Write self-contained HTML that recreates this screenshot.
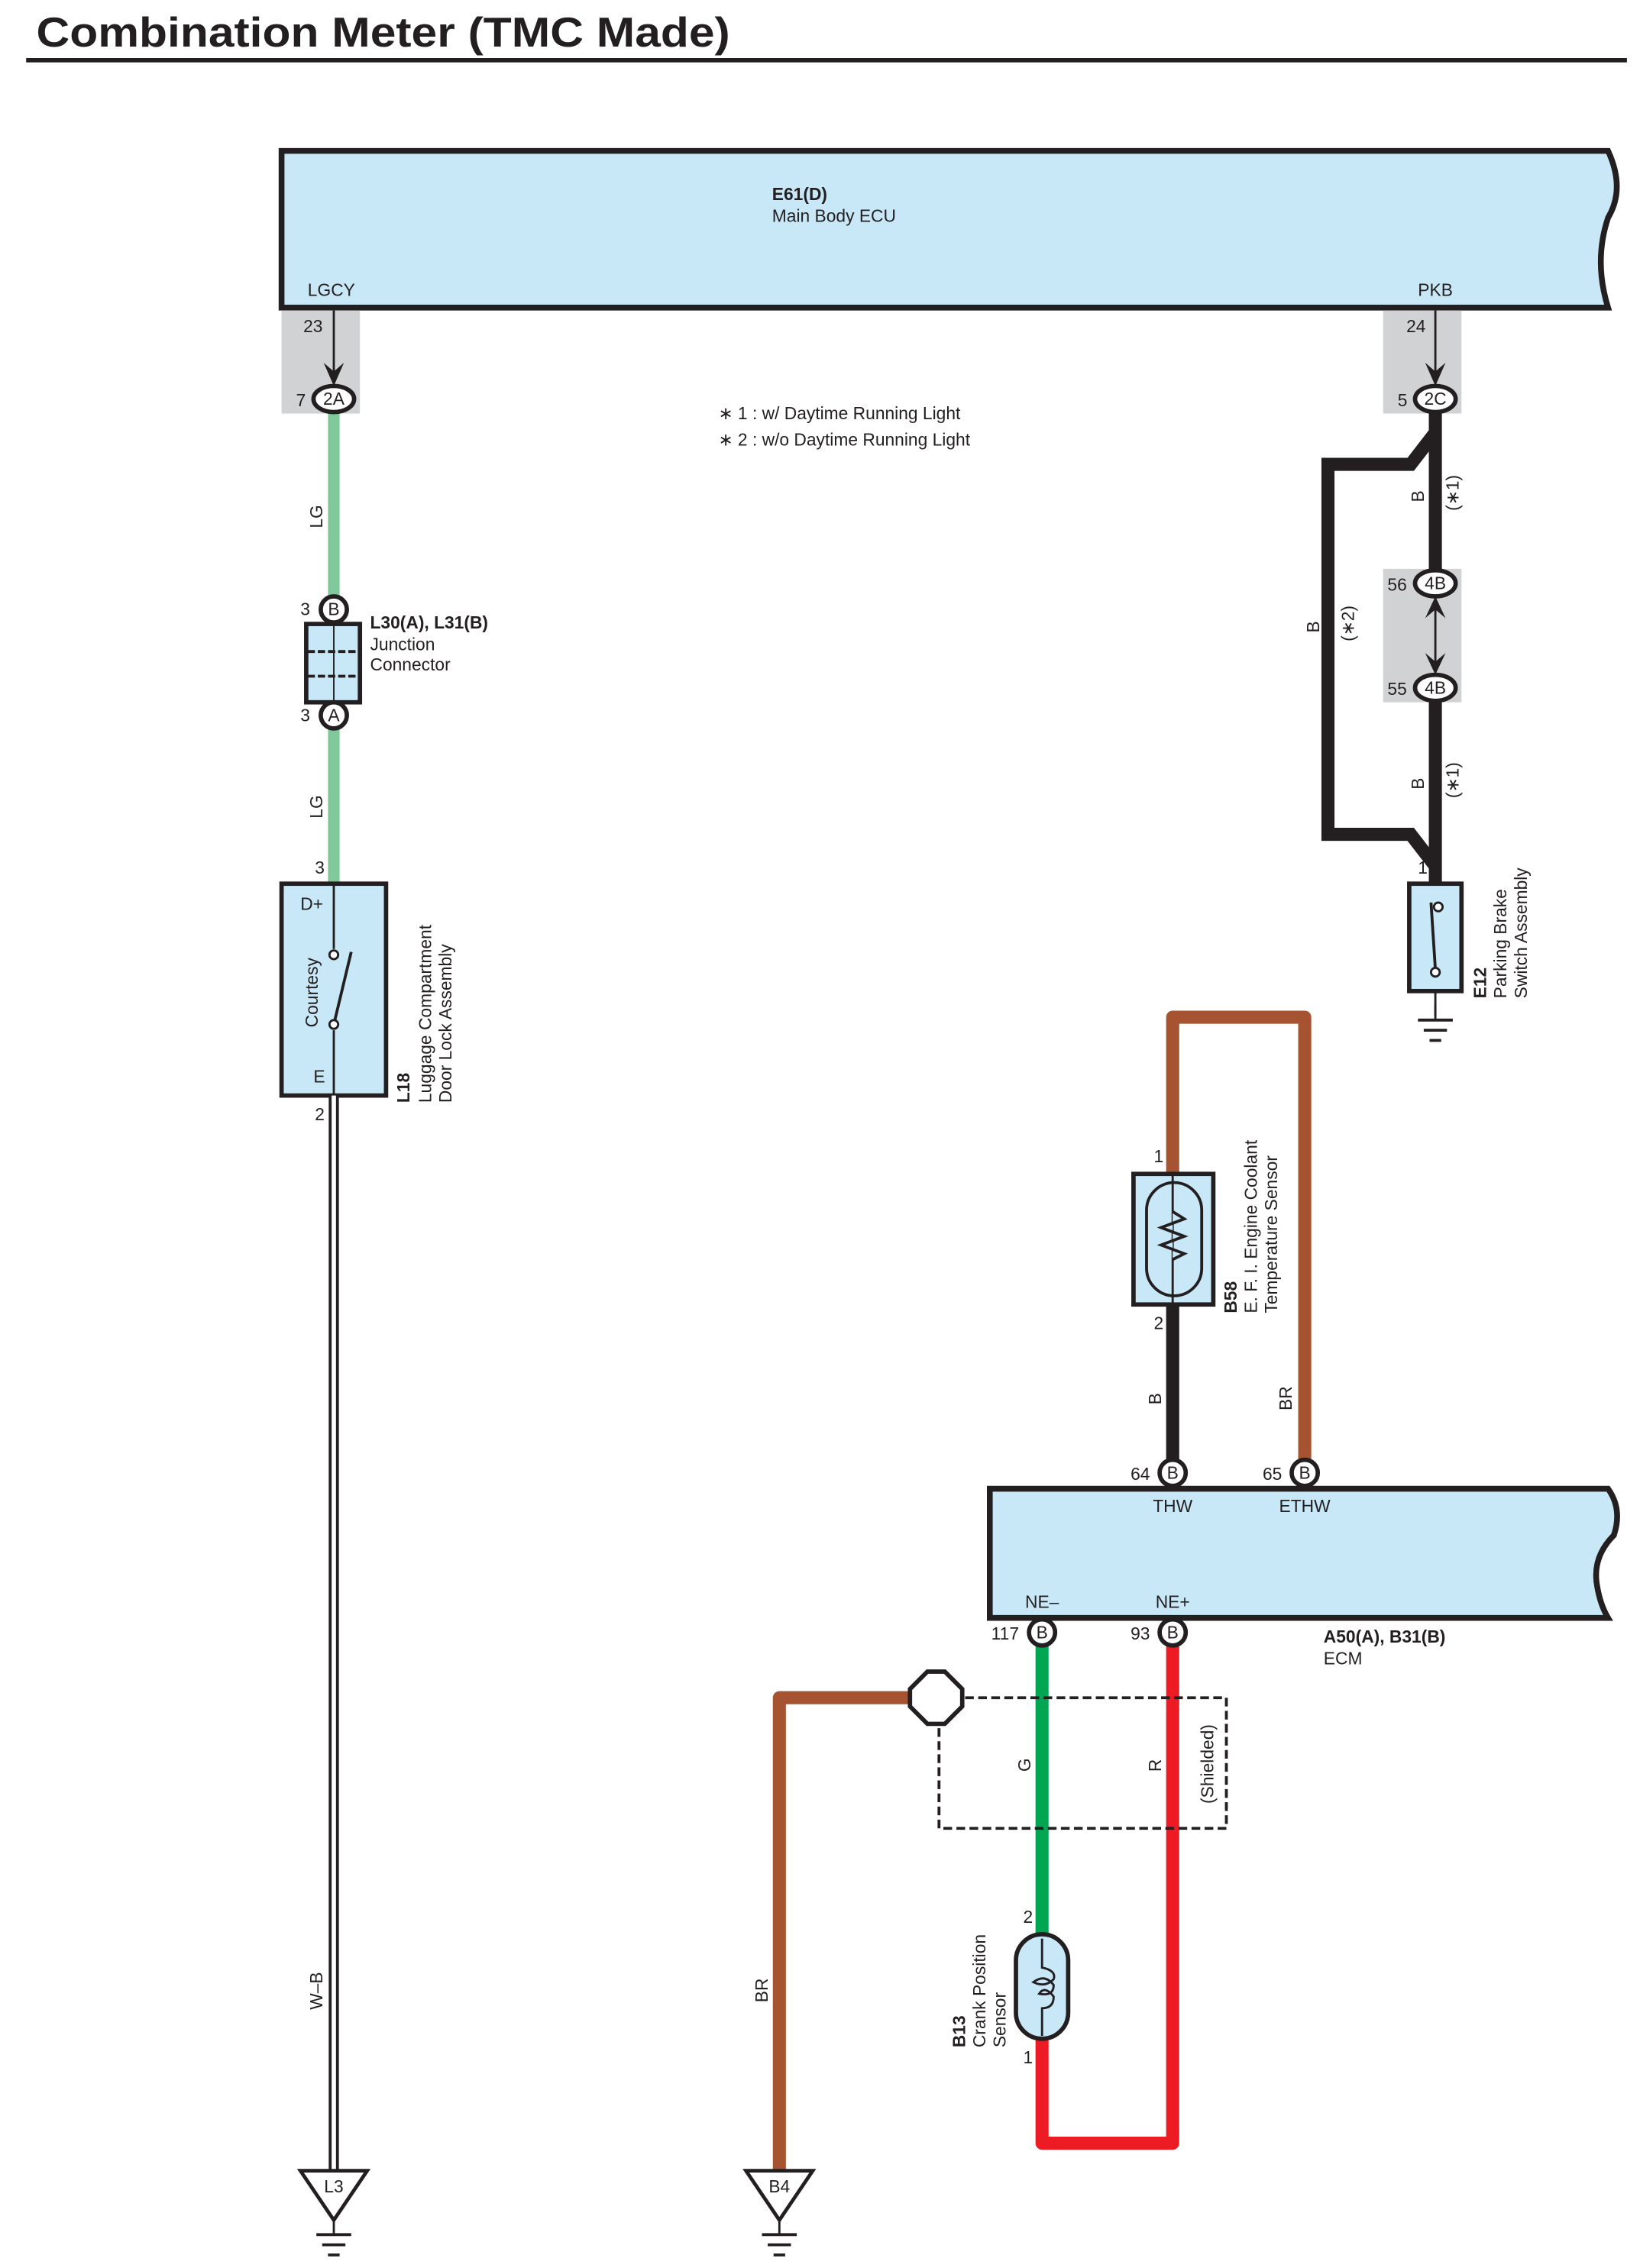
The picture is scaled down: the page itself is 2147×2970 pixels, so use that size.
<!DOCTYPE html>
<html><head><meta charset="utf-8"><style>
html,body{margin:0;padding:0;background:#fff}
svg{display:block}
text{font-family:"Liberation Sans",sans-serif;font-size:12px;fill:#231f20}
.b{font-weight:bold}
</style></head><body>
<svg width="2147" height="2970" viewBox="0 0 1130 1563" preserveAspectRatio="none" xmlns="http://www.w3.org/2000/svg">
<defs>
<g id="gnd"><line x1="0" y1="0" x2="0" y2="10" stroke="#231f20" stroke-width="1.5"/><line x1="-12" y1="10" x2="12" y2="10" stroke="#231f20" stroke-width="2"/><line x1="-8" y1="17" x2="8" y2="17" stroke="#231f20" stroke-width="2"/><line x1="-4" y1="24" x2="4" y2="24" stroke="#231f20" stroke-width="2"/></g>
</defs>
<text x="25" y="32" class="b" style="font-size:29px" textLength="478" lengthAdjust="spacingAndGlyphs">Combination Meter (TMC Made)</text>
<rect x="18" y="40" width="1103" height="3" fill="#231f20"/>

<!-- E61 ECU -->
<path d="M194,104 L1108,104 Q1120,130 1108,150 Q1098,180 1108,212 L194,212 Z" fill="#c8e8f8" stroke="#231f20" stroke-width="4"/>
<text x="532" y="138" class="b">E61(D)</text>
<text x="532" y="153">Main Body ECU</text>
<text x="212" y="204">LGCY</text>
<text x="977" y="204">PKB</text>

<rect x="194" y="214" width="54" height="71" fill="#d1d2d4"/>
<rect x="953" y="214" width="54" height="71" fill="#d1d2d4"/>
<rect x="953" y="392" width="54" height="92" fill="#d1d2d4"/>

<text x="209" y="229">23</text>
<line x1="230" y1="214" x2="230" y2="256" stroke="#231f20" stroke-width="1.5"/>
<path d="M223,250 L230,266 L237,250 L230,256 Z" fill="#231f20"/>
<text x="969" y="229">24</text>
<line x1="989" y1="214" x2="989" y2="256" stroke="#231f20" stroke-width="1.5"/>
<path d="M982,250 L989,266 L996,250 L989,256 Z" fill="#231f20"/>

<text x="495" y="289">∗ 1 : w/ Daytime Running Light</text>
<text x="495" y="307">∗ 2 : w/o Daytime Running Light</text>

<!-- left LG wire -->
<line x1="230" y1="284" x2="230" y2="412" stroke="#7fc99a" stroke-width="8"/>
<line x1="230" y1="502" x2="230" y2="609" stroke="#7fc99a" stroke-width="8"/>
<text transform="translate(222,364) rotate(-90)">LG</text>
<text transform="translate(222,564) rotate(-90)">LG</text>

<ellipse cx="230" cy="275" rx="14" ry="9" fill="#fff" stroke="#231f20" stroke-width="3"/>
<text x="230" y="279" text-anchor="middle">2A</text><text x="204" y="280">7</text>
<ellipse cx="989" cy="275" rx="14" ry="9" fill="#fff" stroke="#231f20" stroke-width="3"/>
<text x="989" y="279" text-anchor="middle">2C</text><text x="963" y="280">5</text>

<!-- junction connector -->
<rect x="211" y="430" width="37" height="54" fill="#c8e8f8" stroke="#231f20" stroke-width="3"/>
<line x1="230" y1="430" x2="230" y2="484" stroke="#231f20" stroke-width="1"/>
<line x1="212" y1="449" x2="247" y2="449" stroke="#231f20" stroke-width="2" stroke-dasharray="5,2"/>
<line x1="212" y1="466" x2="247" y2="466" stroke="#231f20" stroke-width="2" stroke-dasharray="5,2"/>
<circle cx="230" cy="420" r="9" fill="#fff" stroke="#231f20" stroke-width="3"/><text x="230" y="424" text-anchor="middle">B</text><text x="207" y="424">3</text>
<circle cx="230" cy="493" r="9" fill="#fff" stroke="#231f20" stroke-width="3"/><text x="230" y="497" text-anchor="middle">A</text><text x="207" y="497">3</text>
<text x="255" y="433" class="b">L30(A), L31(B)</text>
<text x="255" y="448">Junction</text>
<text x="255" y="462">Connector</text>

<!-- L18 -->
<text x="217" y="602">3</text>
<rect x="194" y="609" width="72" height="146" fill="#c8e8f8" stroke="#231f20" stroke-width="3"/>
<text x="207" y="627">D+</text><text x="216" y="746">E</text>
<text transform="translate(219,708) rotate(-90)">Courtesy</text>
<line x1="230" y1="609" x2="230" y2="654" stroke="#231f20" stroke-width="1.5"/>
<line x1="230" y1="710" x2="230" y2="755" stroke="#231f20" stroke-width="1.5"/>
<line x1="230" y1="706" x2="242" y2="656" stroke="#231f20" stroke-width="2"/>
<circle cx="230" cy="658" r="3" fill="#fff" stroke="#231f20" stroke-width="1.5"/>
<circle cx="230" cy="706" r="3" fill="#fff" stroke="#231f20" stroke-width="1.5"/>
<text transform="translate(282,760) rotate(-90)" class="b">L18</text>
<text transform="translate(297,760) rotate(-90)">Luggage Compartment</text>
<text transform="translate(311,760) rotate(-90)">Door Lock Assembly</text>
<text x="217" y="772">2</text>

<!-- W-B -->
<line x1="230" y1="755" x2="230" y2="1497" stroke="#231f20" stroke-width="7"/>
<line x1="230" y1="755" x2="230" y2="1497" stroke="#fff" stroke-width="3"/>
<text transform="translate(222,1385) rotate(-90)">W–B</text>
<path d="M207,1496 L253,1496 L230,1530 Z" fill="#fff" stroke="#231f20" stroke-width="2.5"/>
<text x="230" y="1511" text-anchor="middle">L3</text>
<use href="#gnd" x="230" y="1530"/>

<!-- right black wires -->
<path d="M989,284 L989,609" stroke="#231f20" stroke-width="9" fill="none"/>
<path d="M989,298 L972,320 L915,320 L915,575 L972,575 L989,597" stroke="#231f20" stroke-width="9" fill="none" stroke-linejoin="miter"/>
<text transform="translate(981,346) rotate(-90)">B</text>
<text transform="translate(1005,352) rotate(-90)">(∗1)</text>
<text transform="translate(909,436) rotate(-90)">B</text>
<text transform="translate(933,442) rotate(-90)">(∗2)</text>
<text transform="translate(981,544) rotate(-90)">B</text>
<text transform="translate(1005,550) rotate(-90)">(∗1)</text>
<rect x="983" y="411" width="12" height="54" fill="#d1d2d4"/>
<line x1="989" y1="412" x2="989" y2="464" stroke="#231f20" stroke-width="1.5"/>
<path d="M982,426 L989,411 L996,426 L989,420 Z" fill="#231f20"/>
<path d="M982,450 L989,465 L996,450 L989,456 Z" fill="#231f20"/>
<ellipse cx="989" cy="402" rx="14" ry="9" fill="#fff" stroke="#231f20" stroke-width="3"/><text x="989" y="406" text-anchor="middle">4B</text><text x="956" y="407">56</text>
<ellipse cx="989" cy="474" rx="14" ry="9" fill="#fff" stroke="#231f20" stroke-width="3"/><text x="989" y="478" text-anchor="middle">4B</text><text x="956" y="479">55</text>
<text x="977" y="602">1</text>

<!-- E12 -->
<rect x="971" y="609" width="36" height="74" fill="#c8e8f8" stroke="#231f20" stroke-width="3"/>
<line x1="989" y1="683" x2="989" y2="700" stroke="#231f20" stroke-width="1.5"/>
<line x1="986" y1="622" x2="989" y2="668" stroke="#231f20" stroke-width="2"/>
<circle cx="991" cy="625" r="3" fill="#fff" stroke="#231f20" stroke-width="1.5"/>
<circle cx="989" cy="670" r="3" fill="#fff" stroke="#231f20" stroke-width="1.5"/>
<use href="#gnd" x="989" y="693"/>
<text transform="translate(1024,688) rotate(-90)" class="b">E12</text>
<text transform="translate(1038,688) rotate(-90)">Parking Brake</text>
<text transform="translate(1052,688) rotate(-90)">Switch Assembly</text>

<!-- B58 -->
<path d="M808,809 L808,701 L899,701 L899,1015" stroke="#a65331" stroke-width="9" fill="none" stroke-linejoin="round"/>
<line x1="808" y1="899" x2="808" y2="1015" stroke="#231f20" stroke-width="9"/>
<rect x="781" y="809" width="55" height="90" fill="#c8e8f8" stroke="#231f20" stroke-width="3"/>
<rect x="790" y="815" width="38" height="78" rx="19" fill="none" stroke="#231f20" stroke-width="2"/>
<line x1="808" y1="809" x2="808" y2="899" stroke="#231f20" stroke-width="1.5"/>
<path d="M808,835 L816,840 L800,846 L816,852 L800,858 L816,864 L808,868" fill="#c8e8f8" stroke="#231f20" stroke-width="2"/>
<text x="795" y="801">1</text><text x="795" y="916">2</text>
<text transform="translate(852,905) rotate(-90)" class="b">B58</text>
<text transform="translate(866,905) rotate(-90)">E. F. I.  Engine Coolant</text>
<text transform="translate(880,905) rotate(-90)">Temperature Sensor</text>
<text transform="translate(800,968) rotate(-90)">B</text>
<text transform="translate(890,972) rotate(-90)">BR</text>

<!-- ECM -->
<path d="M682,1026 L1108,1026 Q1118,1040 1112,1058 Q1098,1072 1100,1090 Q1102,1105 1108,1115 L682,1115 Z" fill="#c8e8f8" stroke="#231f20" stroke-width="4"/>
<circle cx="808" cy="1015" r="9" fill="#fff" stroke="#231f20" stroke-width="3"/><text x="808" y="1019" text-anchor="middle">B</text><text x="779" y="1020">64</text>
<circle cx="899" cy="1015" r="9" fill="#fff" stroke="#231f20" stroke-width="3"/><text x="899" y="1019" text-anchor="middle">B</text><text x="870" y="1020">65</text>
<text x="808" y="1042" text-anchor="middle">THW</text>
<text x="899" y="1042" text-anchor="middle">ETHW</text>
<text x="718" y="1108" text-anchor="middle">NE–</text>
<text x="808" y="1108" text-anchor="middle">NE+</text>
<text x="912" y="1132" class="b">A50(A), B31(B)</text>
<text x="912" y="1147">ECM</text>

<!-- wires below ECM -->
<line x1="718" y1="1134" x2="718" y2="1336" stroke="#00a651" stroke-width="9"/>
<path d="M808,1134 L808,1477 L718,1477 L718,1404" stroke="#ed1c24" stroke-width="9" fill="none" stroke-linejoin="round"/>
<path d="M626,1170 L537,1170 L537,1497" stroke="#a65331" stroke-width="9" fill="none" stroke-linejoin="round"/>
<rect x="647" y="1170" width="198" height="90" fill="none" stroke="#231f20" stroke-width="2" stroke-dasharray="6,3"/>
<path d="M639,1152 L651,1152 L663,1164 L663,1176 L651,1188 L639,1188 L627,1176 L627,1164 Z" fill="#fff" stroke="#231f20" stroke-width="3"/>
<circle cx="718" cy="1125" r="9" fill="#fff" stroke="#231f20" stroke-width="3"/><text x="718" y="1129" text-anchor="middle">B</text><text x="683" y="1130">117</text>
<circle cx="808" cy="1125" r="9" fill="#fff" stroke="#231f20" stroke-width="3"/><text x="808" y="1129" text-anchor="middle">B</text><text x="779" y="1130">93</text>
<text transform="translate(710,1221) rotate(-90)">G</text>
<text transform="translate(800,1221) rotate(-90)">R</text>
<text transform="translate(836,1243) rotate(-90)">(Shielded)</text>
<text transform="translate(529,1380) rotate(-90)">BR</text>
<path d="M514,1496 L560,1496 L537,1530 Z" fill="#fff" stroke="#231f20" stroke-width="2.5"/>
<text x="537" y="1511" text-anchor="middle">B4</text>
<use href="#gnd" x="537" y="1530"/>

<!-- B13 -->
<rect x="700" y="1333" width="36" height="72" rx="18" fill="#c8e8f8" stroke="#231f20" stroke-width="3"/>
<path d="M718,1336 L718,1356 Q728,1358 726,1364 Q720,1370 712,1366 Q720,1360 726,1368 Q726,1376 716,1374 Q720,1368 726,1376 Q726,1384 718,1384 L718,1403" fill="none" stroke="#231f20" stroke-width="1.5"/>
<text x="705" y="1325">2</text><text x="705" y="1422">1</text>
<text transform="translate(665,1411) rotate(-90)" class="b">B13</text>
<text transform="translate(679,1411) rotate(-90)">Crank Position</text>
<text transform="translate(693,1411) rotate(-90)">Sensor</text>
</svg>
</body></html>
